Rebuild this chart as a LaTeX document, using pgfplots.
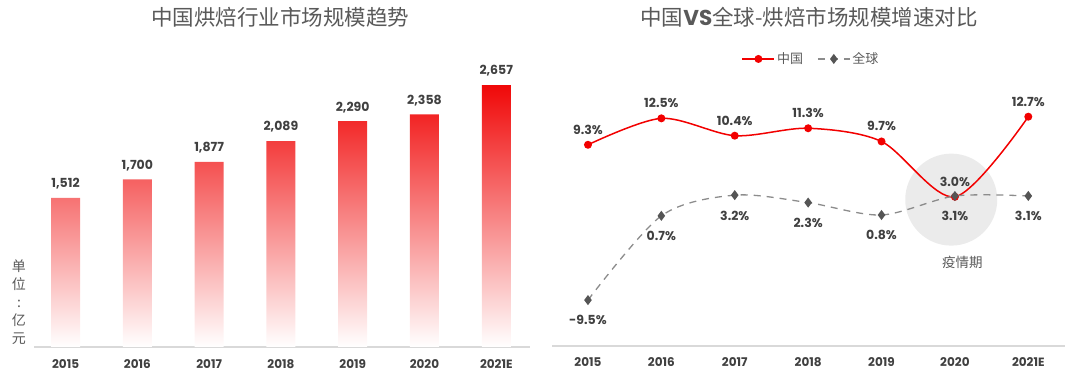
\documentclass[border=0pt]{standalone}
\usepackage{pgfplots}
\pgfplotsset{compat=1.18}
\usepackage{pgfplotstable}
\usepackage{fontspec}
\setmainfont{Poppins}
\newfontfamily\cjk{Noto Sans CJK SC}
\definecolor{barred}{HTML}{F00808}
\definecolor{barmid}{HTML}{F26A6A}
\definecolor{chinared}{HTML}{F20000}
\definecolor{labeltext}{HTML}{404040}
\definecolor{titletext}{HTML}{595959}
\definecolor{axisline}{HTML}{D9D9D9}
\definecolor{globalline}{HTML}{8C8C8C}
\definecolor{globalmark}{HTML}{555555}
\definecolor{circlefill}{HTML}{EBEBEB}

\pgfplotstableread{
x y label
0 1512 {1,512}
1 1700 {1,700}
2 1877 {1,877}
3 2089 {2,089}
4 2290 {2,290}
5 2358 {2,358}
6 2657 {2,657}
}\marketsize

\pgfplotstableread{
x y label
0 9.3 {9.3\%}
1 12.5 {12.5\%}
2 10.4 {10.4\%}
3 11.3 {11.3\%}
4 9.7 {9.7\%}
5 3.0 {3.0\%}
6 12.7 {12.7\%}
}\chinagrowth

\pgfplotstableread{
x y label
0 -9.5 {-9.5\%}
1 0.7 {0.7\%}
2 3.2 {3.2\%}
3 2.3 {2.3\%}
4 0.8 {0.8\%}
5 3.1 {3.1\%}
6 3.1 {3.1\%}
}\globalgrowth

\begin{document}
\begin{tikzpicture}[x=1pt,y=1pt]
\useasboundingbox (0,0) rectangle (1080,377);

% titles
\node[text=titletext, font=\cjk\fontsize{21.5}{24}\selectfont] at (280,360) {中国烘焙行业市场规模趋势};
\node[text=titletext, font=\fontsize{21.5}{24}\selectfont] at (809,360) {{\cjk 中国}{\bfseries VS}{\cjk 全球-烘焙市场规模增速对比}};

% unit label
\node[text=titletext, font=\cjk\fontsize{14}{18}\selectfont, align=center] at (19,75) {单\\位\\:\\亿\\元};

% ---------------- left: bar chart ----------------
\begin{axis}[
  at={(34pt,30pt)}, anchor=south west,
  scale only axis, width=496pt, height=295.8pt,
  xmin=-0.44, xmax=6.47, ymin=0, ymax=3000,
  axis y line=none,
  axis x line*=bottom,
  x axis line style={draw=axisline, line width=1.2pt, -},
  xtick={0,1,2,3,4,5,6},
  xticklabels={2015,2016,2017,2018,2019,2020,2021E},
  major tick length=0pt,
  /pgf/number format/assume math mode=true,
  xticklabel style={font=\bfseries\fontsize{12}{12}\selectfont, text=labeltext, yshift=-9pt},
  clip=false,
]
\addplot[ybar, bar width=29pt, draw=none, top color=barred, middle color=barmid, bottom color=white] table[x=x,y=y] {\marketsize};
\addplot[draw=none, mark=none, nodes near coords, point meta=explicit symbolic,
  nodes near coords style={font=\bfseries\fontsize{12.5}{12.5}\selectfont, text=labeltext, anchor=south, yshift=5pt}]
  table[x=x,y=y,meta=label] {\marketsize};
\end{axis}

% ---------------- right: line chart ----------------
\begin{axis}[
  at={(552pt,31pt)}, anchor=south west,
  scale only axis, width=513pt, height=248.3pt,
  xmin=-0.49, xmax=6.5, ymin=-15.06, ymax=15,
  axis y line=none,
  axis x line*=bottom,
  x axis line style={draw=axisline, line width=1.2pt, -},
  xtick={0,1,2,3,4,5,6},
  xticklabels={2015,2016,2017,2018,2019,2020,2021E},
  major tick length=0pt,
  /pgf/number format/assume math mode=true,
  xticklabel style={font=\bfseries\fontsize{12}{12}\selectfont, text=labeltext, yshift=-8pt},
  clip=false,
  legend columns=2,
  legend style={at={(0.505,1.156)}, anchor=center, draw=none, fill=none,
    font=\cjk\fontsize{13}{13}\selectfont, text=titletext,
    /tikz/every even column/.append style={column sep=12pt}},
  legend image code/.code={\draw[mark repeat=2, mark phase=2] plot coordinates {(0pt,0pt) (16pt,0pt) (32pt,0pt)};},
]
\fill[circlefill] (axis cs:4.95,2.66) circle[radius=46pt];
\node[text=titletext, font=\cjk\fontsize{13.5}{14}\selectfont] at (axis cs:5.1,-4.96) {疫情期};

\addplot[smooth, color=chinared, line width=1.5pt, mark=*, mark size=3.2pt, mark options={fill=chinared, draw=chinared}]
  table[x=x,y=y] {\chinagrowth};
\addlegendentry{中国}
\addplot[smooth, color=globalline, line width=1.3pt, dash pattern=on 7pt off 6pt, mark=diamond*, mark size=4pt,
  mark options={solid, fill=globalmark, draw=globalmark}]
  table[x=x,y=y] {\globalgrowth};
\addlegendentry{全球}

\addplot[forget plot, draw=none, mark=none, nodes near coords, point meta=explicit symbolic,
  nodes near coords style={font=\bfseries\fontsize{12.5}{12.5}\selectfont, text=labeltext, anchor=south, yshift=7pt}]
  table[x=x,y=y,meta=label] {\chinagrowth};
\addplot[forget plot, draw=none, mark=none, nodes near coords, point meta=explicit symbolic,
  nodes near coords style={font=\bfseries\fontsize{12.5}{12.5}\selectfont, text=labeltext, anchor=north, yshift=-12pt}]
  table[x=x,y=y,meta=label] {\globalgrowth};
\end{axis}
\end{tikzpicture}
\end{document}
